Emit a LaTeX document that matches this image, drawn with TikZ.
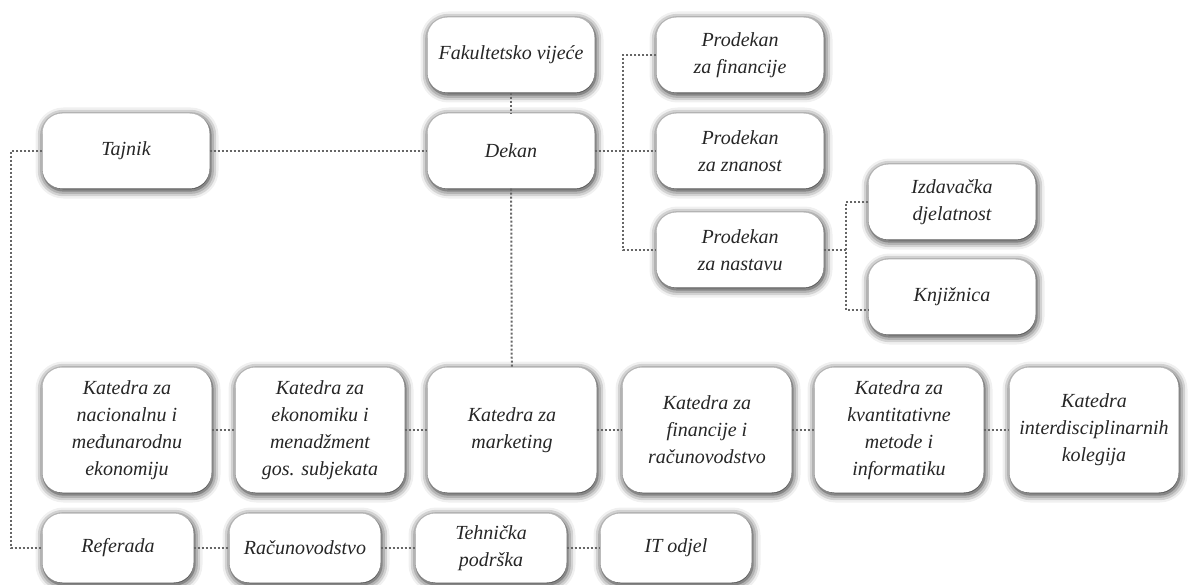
\documentclass[tikz,border=0pt]{standalone}
\usepackage{fontspec}
\setmainfont{Liberation Serif}
\usepackage{tikz}
\usetikzlibrary{calc,shadows.blur}

\begin{document}
\begin{tikzpicture}[x=1pt,y=-1pt,
    orgbox/.style={fill=white,rounded corners=20pt,align=center,inner sep=1pt,
      font=\fontsize{20}{27}\selectfont\itshape,text=black!85,
      blur shadow={shadow xshift=1pt,shadow yshift=-2pt,shadow blur radius=8pt,
        shadow blur extra rounding=4pt,shadow opacity=95}},
    upbox/.style={orgbox,minimum width=167pt,minimum height=75pt},
    katbox/.style={orgbox,minimum width=169pt,minimum height=125pt},
    lowbox/.style={orgbox,minimum width=151pt,minimum height=69pt},
    link/.style={draw=black!60,line width=2pt,dash pattern=on 2pt off 2pt}]
  \useasboundingbox (0,0) rectangle (1189,585);
  % uprava
  \node[upbox](fak)at(511,55){Fakultetsko vijeće};
  \node[upbox](dek)at(511,151){Dekan};
  \node[upbox](taj)at(126,151){Tajnik};
  \node[upbox](pfin)at(740,55){Prodekan\\za financije};
  \node[upbox](pzn)at(740,151){Prodekan\\za znanost};
  \node[upbox](pnas)at(740,250){Prodekan\\za nastavu};
  \node[upbox](izd)at(952,202){Izdavačka\\djelatnost};
  \node[upbox](knj)at(952,297){Knjižnica};
  % katedre
  \node[katbox](k1)at(127,430){Katedra za\\nacionalnu i\\međunarodnu\\ekonomiju};
  \node[katbox](k2)at(320,430){Katedra za\\ekonomiku i\\menadžment\\gos. subjekata};
  \node[katbox](k3)at(512,430){Katedra za\\marketing};
  \node[katbox](k4)at(707,430){Katedra za\\financije i\\računovodstvo};
  \node[katbox](k5)at(899,430){Katedra za\\kvantitativne\\metode i\\informatiku};
  \node[katbox](k6)at(1094,430){Katedra\\interdisciplinarnih\\kolegija};
  % službe
  \node[lowbox](ref)at(118,548){Referada};
  \node[lowbox](rac)at(305,548){Računovodstvo};
  \node[lowbox](teh)at(491,548){Tehnička\\podrška};
  \node[lowbox](itod)at(676,548){IT odjel};
  \coordinate(jd)at(623,151);
  \coordinate(jn)at(846,250);
  \coordinate(jl)at(11,151);
  \draw[link](fak)--(dek);
  \draw[link](taj)--(dek);
  \draw[link](dek)--(k3);
  \draw[link](dek.east)--(jd)--(pzn.west);
  \draw[link](pfin.west)-|(jd)|-(pnas.west);
  \draw[link](pnas.east)--(jn);
  \draw[link](izd.west)-|(jn)|-([yshift=-13pt]knj.west);
  \draw[link](taj.west)--(jl)|-(ref.west);
  \foreach \a/\b in {k1/k2,k2/k3,k3/k4,k4/k5,k5/k6} \draw[link](\a)--(\b);
  \foreach \a/\b in {ref/rac,rac/teh,teh/itod} \draw[link](\a)--(\b);
\end{tikzpicture}
\end{document}
